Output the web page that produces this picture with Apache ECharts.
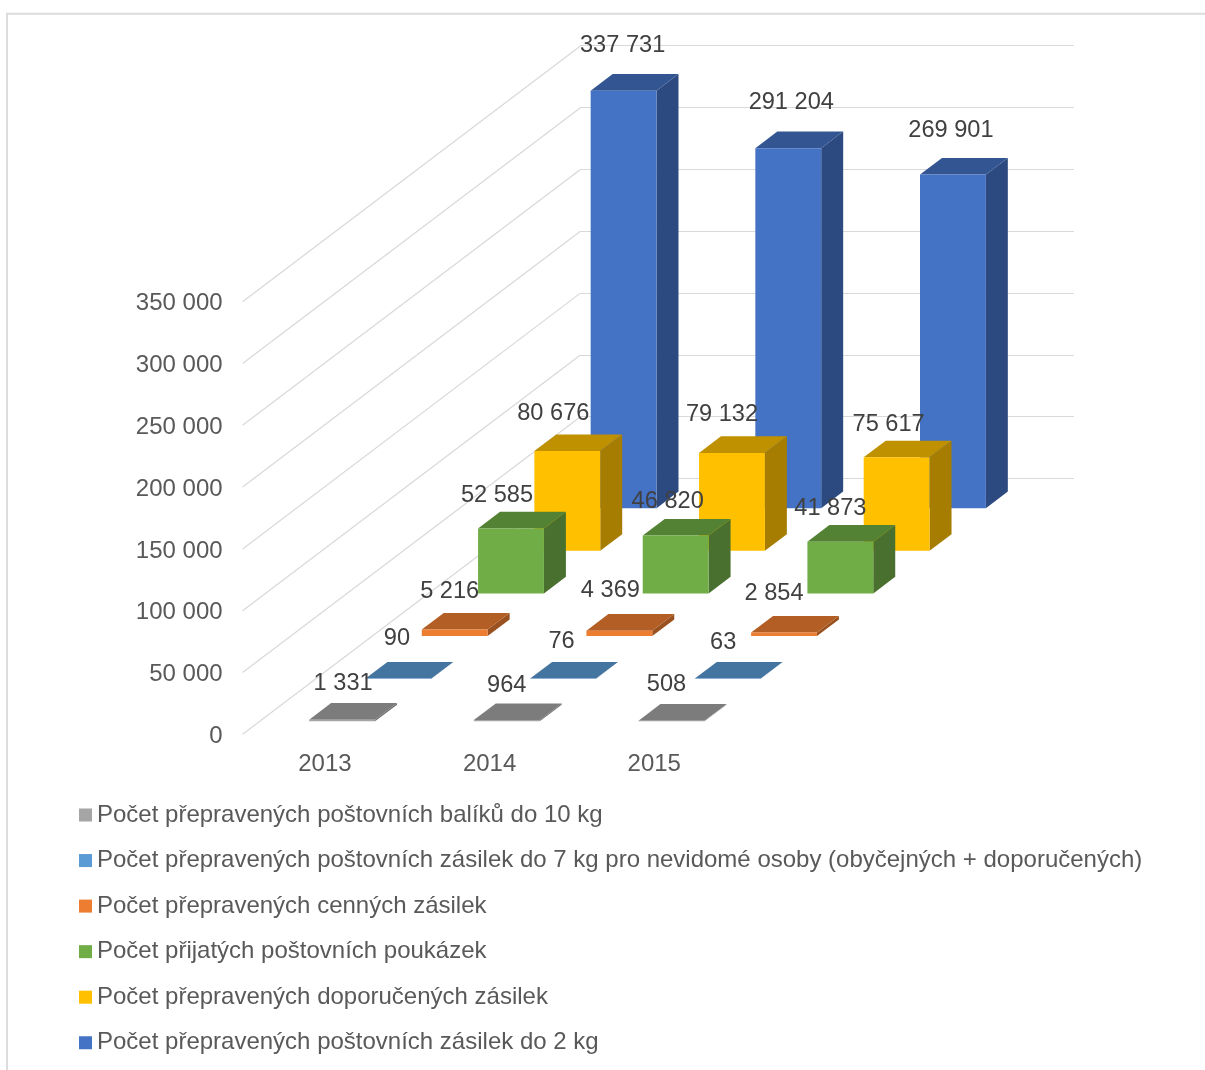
<!DOCTYPE html>
<html lang="cs">
<head>
<meta charset="utf-8">
<title>Přepravené poštovní zásilky 2013–2015</title>
<style>
  html, body { margin: 0; padding: 0; background: #fff; }
  #chart { width: 1205px; height: 1070px; }
</style>
<script src="https://cdn.jsdelivr.net/npm/echarts@6/dist/echarts.min.js"></script>
</head>
<body>
<div id="chart"></div>
<script>
// Rows are listed from the front of the floor to the back wall.
const years = ['2013', '2014', '2015'];
const parcels = [1331, 964, 508];
const blindMail = [90, 76, 63];
const valuables = [5216, 4369, 2854];
const moneyOrders = [52585, 46820, 41873];
const registered = [80676, 79132, 75617];
const letters = [337731, 291204, 269901];
const yTicks = [0, 50000, 100000, 150000, 200000, 250000, 300000, 350000];

const rowNames = [
  'Počet přepravených poštovních balíků do 10 kg',
  'Počet přepravených poštovních zásilek do 7 kg pro nevidomé osoby (obyčejných + doporučených)',
  'Počet přepravených cenných zásilek',
  'Počet přijatých poštovních poukázek',
  'Počet přepravených doporučených zásilek',
  'Počet přepravených poštovních zásilek do 2 kg'
];
const rowValues = [parcels, blindMail, valuables, moneyOrders, registered, letters];
const rowColors = ['#a5a5a5', '#5b9bd5', '#ed7d31', '#70ad47', '#ffc000', '#4472c4'];

// Hand-placed value labels: pixel shift from the top centre of each bar's front face.
const labelShifts = [
  [[1, -36], [0, -35], [-5, -36]],
  [[-1.5, -40], [-1.5, -37], [-4.5, -36]],
  [[-5, -38], [-9, -40], [-10, -39]],
  [[-14, -33], [-8, -34], [-10, -33]],
  [[-14, -38], [-10, -38], [-8, -33]],
  [[-1, -45], [3, -46], [-2, -44]]
];

// Oblique projection of the floor depth.
const ROW_DX = 56.3, ROW_DY = -42.63;
const BAR_DEPTH = 0.39;
const FONT = '"Liberation Sans", Arial, sans-serif';
const GRID_COLOR = '#d9d9d9';

const fmt = v => String(v).replace(/\B(?=(\d{3})+$)/g, ' ');

function shade(hex, k) {
  const n = parseInt(hex.slice(1), 16);
  const c = [n >> 16, (n >> 8) & 255, n & 255].map(x => Math.round(x * k));
  return `rgb(${c.join(',')})`;
}

function barItem(row, color) {
  return function (params, api) {
    const w = api.size([1, 0])[0] * 0.4;
    const depth = row + (1 - BAR_DEPTH) / 2;
    const base = api.coord([api.value(0), 0]);
    const top = api.coord([api.value(0), api.value(1)]);
    const x0 = base[0] - w / 2 + depth * ROW_DX;
    const x1 = x0 + w;
    const yb = base[1] + depth * ROW_DY;
    const yt = top[1] + depth * ROW_DY;
    const ox = BAR_DEPTH * ROW_DX, oy = BAR_DEPTH * ROW_DY;
    return {
      type: 'group',
      children: [
        { type: 'polygon', shape: { points: [[x1, yb], [x1 + ox, yb + oy], [x1 + ox, yt + oy], [x1, yt]] },
          style: { fill: shade(color, 0.65) } },
        { type: 'polygon', shape: { points: [[x0, yt], [x1, yt], [x1 + ox, yt + oy], [x0 + ox, yt + oy]] },
          style: { fill: shade(color, 0.75) } },
        { type: 'rect', shape: { x: x0, y: yt, width: w, height: yb - yt },
          style: { fill: color } }
      ]
    };
  };
}

function labelItem(row) {
  return function (params, api) {
    const depth = row + (1 - BAR_DEPTH) / 2;
    const top = api.coord([api.value(0), api.value(1)]);
    const shift = labelShifts[row][params.dataIndex];
    return {
      type: 'text',
      x: top[0] + depth * ROW_DX + shift[0],
      y: top[1] + depth * ROW_DY + shift[1],
      style: {
        text: fmt(api.value(1)),
        font: '23.6px ' + FONT,
        fill: '#404040',
        align: 'center',
        verticalAlign: 'middle'
      }
    };
  };
}

function sideWallItem(params, api) {
  const p = api.coord([0, api.value(0)]);
  const x = params.coordSys.x;
  const rows = rowNames.length;
  return {
    type: 'line',
    shape: { x1: x, y1: p[1], x2: x + rows * ROW_DX, y2: p[1] + rows * ROW_DY },
    style: { stroke: GRID_COLOR, lineWidth: 1.2 }
  };
}

const byDepth = rowNames.map((name, row) => ({ name, row })).reverse();
const cells = values => values.map((v, i) => [i, v]);

const chart = echarts.init(document.getElementById('chart'), null, { renderer: 'canvas' });
chart.setOption({
  animation: false,
  backgroundColor: '#fff',
  grid: [
    { left: 242.6, top: 301.7, width: 494, height: 432.6 },
    { left: 580, top: 45.5, width: 494, height: 433 }
  ],
  xAxis: [
    {
      type: 'category', gridIndex: 0, data: years,
      axisLine: { show: false }, axisTick: { show: false },
      axisLabel: { color: '#595959', fontSize: 24, fontFamily: FONT, margin: 18 }
    },
    { type: 'category', gridIndex: 1, data: years, show: false }
  ],
  yAxis: [
    {
      type: 'value', gridIndex: 0, min: 0, max: 350000, interval: 50000,
      axisLine: { show: false }, axisTick: { show: false }, splitLine: { show: false },
      axisLabel: { color: '#595959', fontSize: 24, fontFamily: FONT, margin: 20, verticalAlign: 'top', lineHeight: 4, formatter: fmt }
    },
    {
      type: 'value', gridIndex: 1, min: 0, max: 350000, interval: 50000,
      axisLine: { show: false }, axisTick: { show: false }, axisLabel: { show: false },
      splitLine: { show: true, lineStyle: { color: GRID_COLOR, width: 1 } }
    }
  ],
  legend: {
    orient: 'vertical', left: 74, top: 798,
    itemWidth: 13, itemHeight: 13, itemGap: 21.55, selectedMode: false,
    textStyle: { color: '#595959', fontSize: 24, fontFamily: FONT },
    data: rowNames.map(name => ({ name, icon: 'rect' }))
  },
  graphic: [{
    type: 'polyline', silent: true, z: -1,
    shape: { points: [[7, 1070], [7, 13.75], [1205, 13.75]] },
    style: { stroke: '#dcdcdc', lineWidth: 2, fill: null }
  }],
  series: [
    {
      type: 'custom', xAxisIndex: 0, yAxisIndex: 0, z: 1,
      data: yTicks.map(v => [v]), encode: { y: 0 }, renderItem: sideWallItem, silent: true
    },
    ...byDepth.map(({ name, row }) => ({
      type: 'custom', name, xAxisIndex: 0, yAxisIndex: 0, z: 2, silent: true,
      itemStyle: { color: rowColors[row] },
      data: cells(rowValues[row]), encode: { x: 0, y: 1 },
      renderItem: barItem(row, rowColors[row])
    })),
    ...byDepth.map(({ row }) => ({
      type: 'custom', xAxisIndex: 0, yAxisIndex: 0, z: 3, silent: true,
      data: cells(rowValues[row]), encode: { x: 0, y: 1 },
      renderItem: labelItem(row)
    }))
  ]
});
</script>
</body>
</html>
